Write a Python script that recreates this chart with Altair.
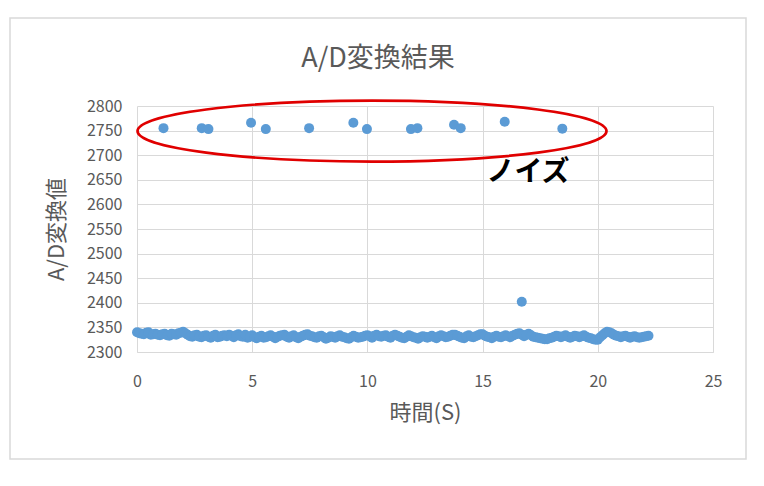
import altair as alt
import pandas as pd

# ---- data ----
TIME = [0.0, 0.2, 0.4, 0.6, 0.8, 1.0, 1.2, 1.4, 1.6, 1.8,
        2.0, 2.2, 2.4, 2.6, 2.8, 3.0, 3.2, 3.4, 3.6, 3.8,
        4.0, 4.2, 4.4, 4.6, 4.8, 5.0, 5.2, 5.4, 5.6, 5.8,
        6.0, 6.2, 6.4, 6.6, 6.8, 7.0, 7.2, 7.4, 7.6, 7.8,
        8.0, 8.2, 8.4, 8.6, 8.8, 9.0, 9.2, 9.4, 9.6, 9.8,
        10.0, 10.2, 10.4, 10.6, 10.8, 11.0, 11.2, 11.4, 11.6, 11.8,
        12.0, 12.2, 12.4, 12.6, 12.8, 13.0, 13.2, 13.4, 13.6, 13.8,
        14.0, 14.2, 14.4, 14.6, 14.8, 15.0, 15.2, 15.4, 15.6, 15.8,
        16.0, 16.2, 16.4, 16.6, 16.8, 17.0, 17.2, 17.4, 17.6, 17.8,
        18.0, 18.2, 18.4, 18.6, 18.8, 19.0, 19.2, 19.4, 19.6, 19.8,
        20.0, 20.2, 20.4, 20.6, 20.8, 21.0, 21.2, 21.4, 21.6, 21.8,
        22.0, 22.2]
VALUE = [2340, 2337, 2339, 2335, 2337, 2334, 2337, 2333, 2336, 2338,
         2341, 2335, 2331, 2335, 2330, 2334, 2329, 2335, 2331, 2334,
         2335, 2330, 2336, 2331, 2329, 2334, 2328, 2333, 2330, 2334,
         2328, 2333, 2335, 2329, 2334, 2328, 2333, 2336, 2332, 2329,
         2333, 2327, 2332, 2329, 2334, 2330, 2327, 2333, 2329, 2331,
         2334, 2329, 2335, 2331, 2334, 2329, 2335, 2331, 2328, 2334,
         2330, 2327, 2332, 2329, 2333, 2328, 2334, 2330, 2333, 2335,
         2331, 2328, 2334, 2330, 2334, 2336, 2331, 2328, 2333, 2330,
         2334, 2330, 2335, 2338, 2332, 2337, 2331, 2329, 2327, 2326,
         2329, 2333, 2330, 2334, 2329, 2333, 2330, 2334, 2329, 2326,
         2325, 2334, 2341, 2338, 2333, 2330, 2333, 2329, 2332, 2329,
         2331, 2333]

TIME_B = [0.1, 0.3, 0.5, 0.7, 0.9, 1.1, 1.3, 1.5, 1.7, 1.9,
          2.1, 2.3, 2.5, 2.7, 2.9, 3.1, 3.3, 3.5, 3.7, 3.9,
          4.1, 4.3, 4.5, 4.7, 4.9, 5.1, 5.3, 5.5, 5.7, 5.9,
          6.1, 6.3, 6.5, 6.7, 6.9, 7.1, 7.3, 7.5, 7.7, 7.9,
          8.1, 8.3, 8.5, 8.7, 8.9, 9.1, 9.3, 9.5, 9.7, 9.9,
          10.1, 10.3, 10.5, 10.7, 10.9, 11.1, 11.3, 11.5, 11.7, 11.9,
          12.1, 12.3, 12.5, 12.7, 12.9, 13.1, 13.3, 13.5, 13.7, 13.9,
          14.1, 14.3, 14.5, 14.7, 14.9, 15.1, 15.3, 15.5, 15.7, 15.9,
          16.1, 16.3, 16.5, 16.7, 16.9, 17.1, 17.3, 17.5, 17.7, 17.9,
          18.1, 18.3, 18.5, 18.7, 18.9, 19.1, 19.3, 19.5, 19.7, 19.9,
          20.1, 20.3, 20.5, 20.7, 20.9, 21.1, 21.3, 21.5, 21.7, 21.9,
          22.1]
VALUE_B = [2338, 2336, 2340, 2336, 2335, 2336, 2334, 2337, 2335, 2339,
           2338, 2332, 2334, 2331, 2333, 2331, 2333, 2330, 2333, 2332,
           2333, 2334, 2332, 2335, 2331, 2330, 2331, 2329, 2332, 2331,
           2331, 2334, 2331, 2332, 2330, 2331, 2335, 2333, 2330, 2332,
           2330, 2329, 2331, 2332, 2331, 2328, 2330, 2331, 2330, 2333,
           2332, 2333, 2332, 2333, 2331, 2333, 2333, 2329, 2331, 2332,
           2329, 2330, 2331, 2331, 2330, 2332, 2332, 2331, 2335, 2333,
           2329, 2332, 2331, 2332, 2336, 2333, 2330, 2331, 2331, 2332,
           2332, 2333, 2337, 2335, 2335, 2334, 2330, 2328, 2326, 2328,
           2331, 2332, 2332, 2331, 2331, 2332, 2332, 2331, 2328, 2325,
           2330, 2338, 2340, 2335, 2332, 2332, 2331, 2331, 2330, 2330,
           2332]

NOISE_TIME = [1.15, 2.81, 3.10, 4.95, 5.59, 7.47, 9.39, 9.98, 11.89, 12.17,
              13.76, 14.05, 15.96, 18.46]
NOISE_VALUE = [2755, 2755, 2753, 2766, 2753, 2755, 2766, 2753, 2753, 2755,
               2762, 2755, 2768, 2754]

SPIKE_TIME = [16.7]
SPIKE_VALUE = [2402]

X_TICKS = [0, 5, 10, 15, 20, 25]
Y_TICKS = [2300, 2350, 2400, 2450, 2500, 2550, 2600, 2650, 2700, 2750, 2800]

TITLE = "A/D変換結果"
X_TITLE = "時間(S)"
Y_TITLE = "A/D変換値"
NOTE = "ノイズ"
NOTE_T = [16.97]
NOTE_V = [2664]
ELLIPSE_T = [10.2]
ELLIPSE_V = [2749]

# ---- build tables ----
points = pd.DataFrame({
    "t": TIME + TIME_B + NOISE_TIME + SPIKE_TIME,
    "v": VALUE + VALUE_B + NOISE_VALUE + SPIKE_VALUE,
})
note_df = pd.DataFrame({"t": NOTE_T, "v": NOTE_V, "label": [NOTE]})
ell_df = pd.DataFrame({"t": ELLIPSE_T, "v": ELLIPSE_V})

FONT = "Noto Sans CJK JP"
GRAY = "#595959"
GRID = "#d9d9d9"

x_scale = alt.Scale(domain=[0, 25], nice=False, zero=False)
y_scale = alt.Scale(domain=[2300, 2800], nice=False, zero=False)

x_axis = alt.Axis(
    values=X_TICKS, title=X_TITLE, grid=True, gridColor=GRID, domain=True,
    domainColor=GRID, ticks=False, labelPadding=21, labelFontSize=16,
    labelColor=GRAY, labelFont=FONT, titleFont=FONT, titleFontSize=22,
    titleColor=GRAY, titleFontWeight="normal", titleX=288, titleY=60,
    titleBaseline="middle", titleAlign="center", format="d",
    labelOverlap=False, labelFlush=False)
y_axis = alt.Axis(
    values=Y_TICKS, title=Y_TITLE, grid=True, gridColor=GRID, domain=False,
    ticks=False, labelPadding=15, labelFontSize=16, labelColor=GRAY,
    labelFont=FONT, titleFont=FONT, titleFontSize=22, titleColor=GRAY,
    titleFontWeight="normal", titleX=-81, titleY=123, titleBaseline="middle",
    titleAlign="center", titleAngle=270, format="d", labelOverlap=False,
    labelFlush=False)

x_enc = alt.X("t:Q", scale=x_scale, axis=x_axis)
y_enc = alt.Y("v:Q", scale=y_scale, axis=y_axis)

border = alt.Chart(pd.DataFrame({"a": [0]})).mark_rect(
    fill="transparent", stroke="#d9d9d9", strokeWidth=1.5
).encode(x=alt.value(-127), x2=alt.value(609), y=alt.value(-88), y2=alt.value(353))

dots = alt.Chart(points).mark_circle(
    color="#5b9bd5", size=100, opacity=1
).encode(x=x_enc, y=y_enc)

ELLIPSE_PATH = "M -1 0 A 1 0.13 0 1 0 1 0 A 1 0.13 0 1 0 -1 0 Z"
ellipse = alt.Chart(ell_df).mark_point(
    shape=ELLIPSE_PATH, size=469 * 469, filled=False, stroke="#e00000",
    strokeWidth=2.7, opacity=1
).encode(x=x_enc, y=y_enc)

note = alt.Chart(note_df).mark_text(
    font=FONT, fontSize=28, fontWeight="bold", color="black",
    align="center", baseline="middle"
).encode(x=x_enc, y=y_enc, text="label:N")

chart = alt.layer(border, dots, ellipse, note).properties(
    width=576, height=246,
    title=alt.TitleParams(TITLE, font=FONT, fontSize=27, fontWeight="normal",
                          color=GRAY, anchor="middle", dx=-47, dy=90, offset=34),
    autosize=alt.AutoSizeParams(type="none"),
    padding={"left": 129, "top": 98, "right": 40, "bottom": 120},
).configure_view(stroke=None)

chart.save("out.html", embed_options={"renderer": "svg", "actions": False})
